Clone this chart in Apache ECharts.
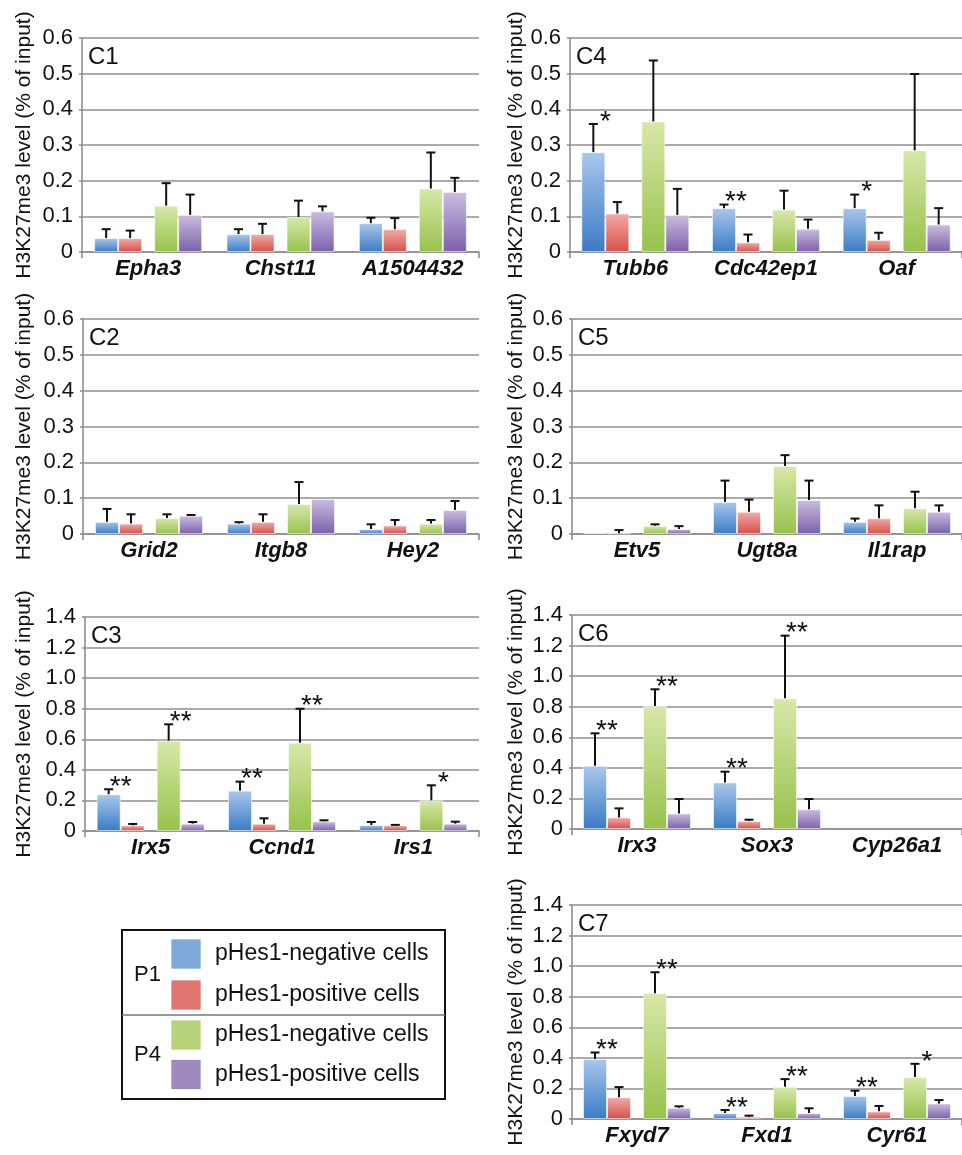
<!DOCTYPE html>
<html>
<head>
<meta charset="utf-8">
<script src="https://cdn.jsdelivr.net/npm/echarts@6/dist/echarts.min.js"></script>
<style>
  html, body { margin: 0; padding: 0; background: #fff; }
  #chart { width: 962px; height: 1155px; }
</style>
</head>
<body>
<div id="chart"></div>
<script>
// ---------- DATA ----------
// group order in every panel: P1 pHes1-negative, P1 pHes1-positive, P4 pHes1-negative, P4 pHes1-positive
const groupNames = ['pHes1-negative cells', 'pHes1-positive cells', 'pHes1-negative cells', 'pHes1-positive cells'];
const stageNames = ['P1', 'P4'];
const panelNames = ['C1', 'C2', 'C3', 'C4', 'C5', 'C6', 'C7'];
const yTitle = 'H3K27me3 level (% of input)';

const c1Genes = ['Epha3', 'Chst11', 'A1504432'];
const c1Means = [[0.039, 0.050, 0.081], [0.039, 0.050, 0.064], [0.130, 0.098, 0.178], [0.104, 0.114, 0.168]];
const c1Errs  = [[0.025, 0.014, 0.015], [0.021, 0.029, 0.031], [0.063, 0.046, 0.101], [0.057, 0.014, 0.040]];
const c1Stars = [['', '', ''], ['', '', ''], ['', '', ''], ['', '', '']];

const c2Genes = ['Grid2', 'Itgb8', 'Hey2'];
const c2Means = [[0.034, 0.029, 0.014], [0.029, 0.034, 0.024], [0.045, 0.084, 0.029], [0.051, 0.098, 0.067]];
const c2Errs  = [[0.036, 0.004, 0.013], [0.026, 0.021, 0.015], [0.010, 0.061, 0.010], [0.002, 0.000, 0.025]];
const c2Stars = [['', '', ''], ['', '', ''], ['', '', ''], ['', '', '']];

const c3Genes = ['Irx5', 'Ccnd1', 'Irs1'];
const c3Means = [[0.240, 0.264, 0.039], [0.037, 0.048, 0.037], [0.591, 0.578, 0.201], [0.048, 0.063, 0.048]];
const c3Errs  = [[0.033, 0.059, 0.020], [0.009, 0.035, 0.003], [0.107, 0.222, 0.098], [0.011, 0.007, 0.013]];
const c3Stars = [['**', '**', ''], ['', '', ''], ['**', '**', '*'], ['', '', '']];

const c4Genes = ['Tubb6', 'Cdc42ep1', 'Oaf'];
const c4Means = [[0.280, 0.123, 0.123], [0.108, 0.027, 0.034], [0.366, 0.119, 0.285], [0.104, 0.065, 0.077]];
const c4Errs  = [[0.079, 0.010, 0.038], [0.032, 0.022, 0.020], [0.171, 0.053, 0.214], [0.073, 0.026, 0.046]];
const c4Stars = [['*', '**', '*'], ['', '', ''], ['', '', ''], ['', '', '']];

const c5Genes = ['Etv5', 'Ugt8a', 'Il1rap'];
const c5Means = [[0.003, 0.089, 0.034], [0.002, 0.062, 0.044], [0.023, 0.190, 0.072], [0.014, 0.095, 0.062]];
const c5Errs  = [[0.000, 0.060, 0.009], [0.009, 0.034, 0.036], [0.004, 0.030, 0.046], [0.008, 0.054, 0.018]];
const c5Stars = [['', '', ''], ['', '', ''], ['', '', ''], ['', '', '']];

const c6Genes = ['Irx3', 'Sox3', 'Cyp26a1'];
const c6Means = [[0.414, 0.305, null], [0.076, 0.052, null], [0.805, 0.855, null], [0.102, 0.129, null]];
const c6Errs  = [[0.212, 0.070, null], [0.059, 0.009, null], [0.109, 0.410, null], [0.094, 0.067, null]];
const c6Stars = [['**', '**', ''], ['', '', ''], ['**', '**', ''], ['', '', '']];

const c7Genes = ['Fxyd7', 'Fxd1', 'Cyr61'];
const c7Means = [[0.392, 0.039, 0.150], [0.142, 0.015, 0.050], [0.823, 0.211, 0.274], [0.074, 0.039, 0.102]];
const c7Errs  = [[0.043, 0.020, 0.035], [0.067, 0.007, 0.035], [0.137, 0.050, 0.087], [0.009, 0.031, 0.022]];
const c7Stars = [['**', '**', '**'], ['', '', ''], ['**', '**', '*'], ['', '', '']];

const smallTicks = [0, 0.1, 0.2, 0.3, 0.4, 0.5, 0.6];
const largeTicks = [0, 0.2, 0.4, 0.6, 0.8, 1.0, 1.2, 1.4];

// ---------- STYLE / LAYOUT ----------
const FONT = "'Liberation Sans', Arial, Helvetica, sans-serif";
const GRID_COLOR = '#8f8f8f';
const topColors    = ['#a9c7ec', '#f4aaa5', '#d8e8a8', '#cbbde0'];
const bottomColors = ['#3a7bc5', '#d4504a', '#97c24c', '#7b60aa'];
const swatchColors = ['#7fa7d8', '#e0766f', '#b7d27b', '#a08abd'];
const BAR_W = 24, GAP_W = 12;
const OFFSETS = [-BAR_W * 1.5 - GAP_W / 2, -BAR_W / 2 - GAP_W / 2, BAR_W / 2 + GAP_W / 2, BAR_W * 1.5 + GAP_W / 2];

const panels = [
  { genes: c1Genes, means: c1Means, errs: c1Errs, stars: c1Stars, ticks: smallTicks, box: [82, 38, 397, 214], gap: 47 },
  { genes: c2Genes, means: c2Means, errs: c2Errs, stars: c2Stars, ticks: smallTicks, box: [83, 319, 396, 215], gap: 48 },
  { genes: c3Genes, means: c3Means, errs: c3Errs, stars: c3Stars, ticks: largeTicks, box: [85, 617, 394, 214], gap: 50 },
  { genes: c4Genes, means: c4Means, errs: c4Errs, stars: c4Stars, ticks: smallTicks, box: [570, 38, 392, 214], gap: 43 },
  { genes: c5Genes, means: c5Means, errs: c5Errs, stars: c5Stars, ticks: smallTicks, box: [572, 319, 390, 215], gap: 45 },
  { genes: c6Genes, means: c6Means, errs: c6Errs, stars: c6Stars, ticks: largeTicks, box: [572, 615, 390, 214], gap: 45 },
  { genes: c7Genes, means: c7Means, errs: c7Errs, stars: c7Stars, ticks: largeTicks, box: [572, 905, 390, 214], gap: 45 }
];

const grids = [], xAxes = [], yAxes = [], series = [], graphics = [];

panels.forEach((p, pi) => {
  const [l, t, w, h] = p.box;
  grids.push({ left: l, top: t, width: w, height: h, containLabel: false });
  xAxes.push({
    type: 'category', gridIndex: pi, data: p.genes,
    axisLine: { lineStyle: { color: GRID_COLOR, width: 1.6 } },
    axisTick: { show: true, length: 6, interval: (i) => i === 0, lineStyle: { color: GRID_COLOR, width: 1.6 } },
    axisLabel: { fontFamily: FONT, fontSize: 22, fontWeight: 'bold', fontStyle: 'italic', color: '#111', margin: 6, interval: 0 }
  });
  const step = p.ticks[1] - p.ticks[0];
  yAxes.push({
    type: 'value', gridIndex: pi, min: p.ticks[0], max: p.ticks[p.ticks.length - 1], interval: step,
    name: yTitle, nameLocation: 'middle', nameGap: p.gap, nameRotate: 90,
    nameTextStyle: { fontFamily: FONT, fontSize: 21, color: '#111' },
    axisLine: { show: true, lineStyle: { color: GRID_COLOR, width: 1.6 } },
    axisTick: { show: true, length: 3, lineStyle: { color: GRID_COLOR, width: 1.6 } },
    splitLine: { show: true, lineStyle: { color: GRID_COLOR, width: 1.6 } },
    axisLabel: {
      fontFamily: FONT, fontSize: 22, color: '#111', margin: 9,
      formatter: (v) => (Math.abs(v) < 1e-9 ? '0' : v.toFixed(1))
    }
  });

  p.means.forEach((vals, gi) => {
    series.push({
      type: 'bar', name: groupNames[gi], xAxisIndex: pi, yAxisIndex: pi,
      data: vals.map(v => (v === null ? '-' : v)),
      barWidth: BAR_W, barGap: '0%', barCategoryGap: '0%',
      itemStyle: {
        color: new echarts.graphic.LinearGradient(0, 0, 0, 1, [
          { offset: 0, color: topColors[gi] }, { offset: 1, color: bottomColors[gi] }
        ]),
        borderColor: 'rgba(255,255,255,0.55)', borderWidth: 1
      },
      silent: true
    });
    if (gi === 1) {
      // empty spacer between the P1 pair and the P4 pair
      series.push({
        type: 'bar', name: 'spacer', xAxisIndex: pi, yAxisIndex: pi,
        data: p.genes.map(() => '-'), barWidth: GAP_W, barGap: '0%', silent: true,
        itemStyle: { color: 'rgba(0,0,0,0)' }
      });
    }
  });

  const rows = [];
  p.means.forEach((vals, gi) => vals.forEach((v, ci) => {
    if (v !== null) rows.push([ci, gi, v, p.errs[gi][ci]]);
  }));
  series.push({
    type: 'custom', xAxisIndex: pi, yAxisIndex: pi, z: 5, silent: true,
    encode: { x: 0, y: 2 },
    data: rows,
    renderItem: (params, api) => {
      const ci = api.value(0), gi = api.value(1), m = api.value(2), e = api.value(3);
      const base = api.coord([ci, m]);
      const x = base[0] + OFFSETS[gi];
      const yTop = api.coord([ci, m + e])[1];
      const children = [];
      if (e > 0) {
        children.push({ type: 'line', shape: { x1: x, y1: base[1], x2: x, y2: yTop }, style: { stroke: '#111', lineWidth: 2 } });
        children.push({ type: 'line', shape: { x1: x - 4.5, y1: yTop, x2: x + 4.5, y2: yTop }, style: { stroke: '#111', lineWidth: 2 } });
      }
      const star = p.stars[gi][ci];
      if (star) {
        children.push({
          type: 'text',
          style: { text: star, x: x + BAR_W / 2, y: yTop - 2, align: 'center', verticalAlign: 'middle',
                   font: '28px ' + FONT, fill: '#111' }
        });
      }
      return { type: 'group', children };
    }
  });

  graphics.push({
    type: 'text', left: l + 6, top: t + 7,
    style: { text: panelNames[pi], font: '24px ' + FONT, fill: '#111' }
  });
});

// ---------- LEGEND BOX ----------
const LX = 122, LY = 930, LW = 323, LH = 169, DIV = 1015;
graphics.push({ type: 'rect', shape: { x: LX, y: LY, width: LW, height: LH }, style: { fill: '#fff', stroke: '#111', lineWidth: 2 }, z: 10 });
graphics.push({ type: 'line', shape: { x1: LX, y1: DIV, x2: LX + LW, y2: DIV }, style: { stroke: '#777', lineWidth: 1.5 }, z: 11 });
const swatchCenters = [954, 995, 1035, 1074.5];
groupNames.forEach((name, gi) => {
  const cy = swatchCenters[gi];
  graphics.push({ type: 'rect', shape: { x: 171, y: cy - 15, width: 30, height: 30 }, style: { fill: swatchColors[gi], stroke: 'rgba(255,255,255,0.7)', lineWidth: 1 }, z: 11 });
  graphics.push({ type: 'text', style: { text: name, x: 215, y: cy, verticalAlign: 'middle', font: '23px ' + FONT, fill: '#111' }, z: 11 });
});
stageNames.forEach((s, si) => {
  const cy = (swatchCenters[si * 2] + swatchCenters[si * 2 + 1]) / 2;
  graphics.push({ type: 'text', style: { text: s, x: 134, y: cy, verticalAlign: 'middle', font: '22px ' + FONT, fill: '#111' }, z: 11 });
});

const chart = echarts.init(document.getElementById('chart'), null, { renderer: 'canvas' });
chart.setOption({
  animation: false,
  backgroundColor: '#fff',
  textStyle: { fontFamily: FONT },
  grid: grids, xAxis: xAxes, yAxis: yAxes, series: series, graphic: graphics
});
</script>
</body>
</html>
